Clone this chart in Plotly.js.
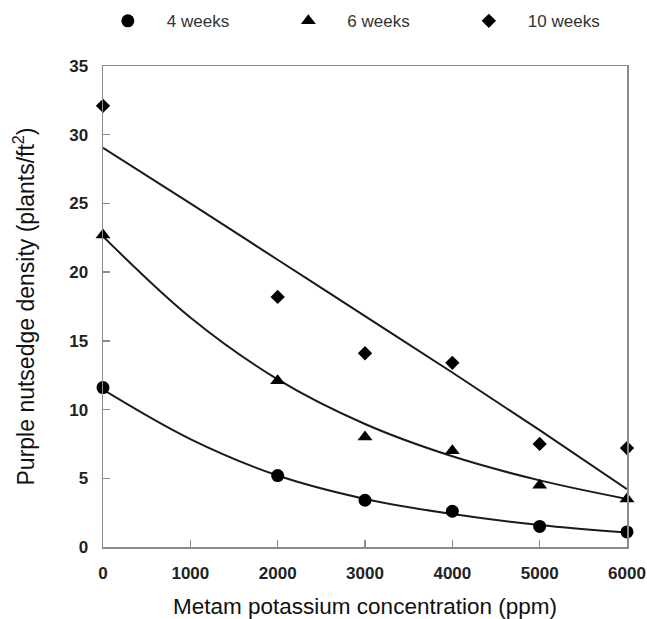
<!DOCTYPE html>
<html>
<head>
<meta charset="utf-8">
<script src="https://cdn.plot.ly/plotly-3.0.1.min.js"></script>
<style>html,body{margin:0;padding:0;background:#fff;}</style>
</head>
<body>
<div id="chart" style="width:647px;height:619px;"></div>
<script>
// Observed data
const conc = [0, 2000, 3000, 4000, 5000, 6000];
const wk4 = [11.6, 5.2, 3.4, 2.6, 1.5, 1.1];
const wk6 = [22.7, 12.1, 8.0, 7.0, 4.5, 3.5];
const wk10 = [32.1, 18.2, 14.1, 13.4, 7.5, 7.2];

// Fitted curves
const fitX = [0, 1000, 2000, 3000, 4000, 5000, 6000];
const fit4 = [11.45, 7.85, 5.2, 3.5, 2.4, 1.6, 1.05];
const fit6 = [22.6, 16.7, 12.2, 8.95, 6.6, 4.85, 3.5];
const fit10 = [29.05, 25.0, 20.9, 16.8, 12.7, 8.5, 4.2];

const seriesNames = ['4 weeks', '6 weeks', '10 weeks'];
const xTicks = [0, 1000, 2000, 3000, 4000, 5000, 6000];
const yTicks = [0, 5, 10, 15, 20, 25, 30, 35];

const lineStyle = {color: '#1a1a1a', width: 2, shape: 'spline'};
const font = 'Liberation Sans, Arial, sans-serif';

const traces = [
  {x: fitX, y: fit4, mode: 'lines', line: lineStyle, showlegend: false, hoverinfo: 'skip'},
  {x: fitX, y: fit6, mode: 'lines', line: lineStyle, showlegend: false, hoverinfo: 'skip'},
  {x: fitX, y: fit10, mode: 'lines', line: lineStyle, showlegend: false, hoverinfo: 'skip'},
  {x: conc, y: wk4, name: seriesNames[0], mode: 'markers', cliponaxis: false,
   marker: {symbol: 'circle', size: 13, color: '#000'}},
  {x: conc, y: wk6, name: seriesNames[1], mode: 'markers', cliponaxis: false,
   marker: {symbol: 'triangle-up', size: 13, color: '#000'}},
  {x: conc, y: wk10, name: seriesNames[2], mode: 'markers', cliponaxis: false,
   marker: {symbol: 'diamond', size: 11, color: '#000'}}
];

const axisCommon = {
  showgrid: false, zeroline: false, showline: true, mirror: true,
  linecolor: '#8a8a8a', linewidth: 1.5,
  ticks: 'inside', ticklen: 7, tickwidth: 1.5, tickcolor: '#8a8a8a',
  tickfont: {family: font, size: 17, color: '#222', weight: 'bold'},
  ticklabelstandoff: 10
};

const layout = {
  width: 647, height: 619,
  margin: {l: 103, r: 20, t: 66, b: 72, autoexpand: false},
  paper_bgcolor: '#fff', plot_bgcolor: '#fff',
  showlegend: true,
  legend: {
    orientation: 'h', x: -0.027, xanchor: 'left', y: 1.093, yanchor: 'middle',
    font: {family: font, size: 17, color: '#333'},
    itemwidth: 68, entrywidth: 97.5, traceorder: 'normal'
  },
  xaxis: Object.assign({}, axisCommon, {
    range: [0, 6000], tickvals: xTicks,
    title: {text: 'Metam potassium concentration (ppm)', font: {family: font, size: 22.5, color: '#111'}, standoff: 16}
  }),
  yaxis: Object.assign({}, axisCommon, {
    range: [0, 35], tickvals: yTicks,
    title: {text: 'Purple nutsedge density (plants/ft<sup>2</sup>)', font: {family: font, size: 23, color: '#111'}, standoff: 28}
  })
};

Plotly.newPlot('chart', traces, layout, {displayModeBar: false, staticPlot: true});
</script>
</body>
</html>
